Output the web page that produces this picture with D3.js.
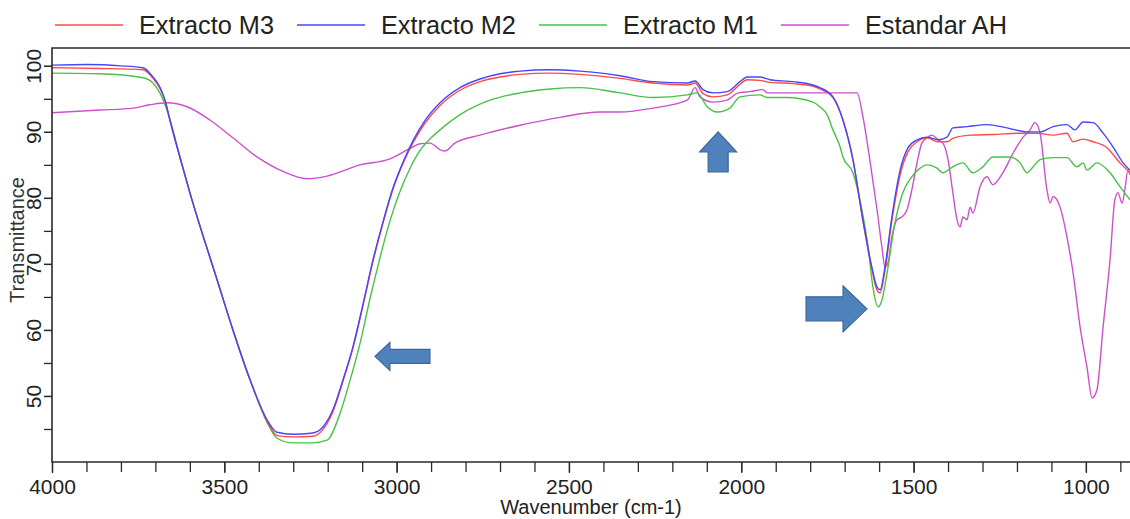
<!DOCTYPE html>
<html>
<head>
<meta charset="utf-8">
<script src="https://cdn.jsdelivr.net/npm/d3@7"></script>
<style>
  html, body { margin: 0; padding: 0; background: #ffffff; }
  svg { display: block; font-family: "Liberation Sans", Arial, sans-serif; }
</style>
</head>
<body>
<svg id="chart" width="1130" height="519"></svg>
<script>
// FTIR spectra: [wavenumber (cm-1), transmittance (%)]
const extractoM3 = [
  [4000, 99.7], [3860, 99.6], [3736, 99.4], [3707, 98.1], [3687, 96.6], [3672, 94.7],
  [3658, 91.8], [3629, 86.2], [3600, 80.8], [3521, 67.6], [3475, 60.0], [3425, 52.4],
  [3376, 46.2], [3347, 44.0], [3301, 43.8], [3243, 43.9], [3214, 44.9], [3185, 47.6],
  [3156, 52.2], [3127, 57.2], [3098, 63.6], [3070, 70.1], [3040, 76.1], [3010, 81.4],
  [2980, 85.4], [2950, 88.6], [2918, 91.3], [2874, 94.0], [2816, 96.3], [2758, 97.6],
  [2700, 98.3], [2642, 98.7], [2555, 98.9], [2468, 98.7], [2352, 98.1], [2256, 97.4],
  [2157, 97.1], [2134, 97.4], [2111, 95.8], [2082, 95.3], [2041, 95.6], [2004, 97.2],
  [1983, 97.9], [1946, 97.8], [1917, 97.5], [1850, 97.3], [1792, 96.9], [1772, 96.5],
  [1734, 95.2], [1705, 91.8], [1676, 85.8], [1647, 76.5], [1621, 69.2], [1606, 66.0],
  [1597, 65.6], [1583, 69.0], [1563, 76.5], [1539, 83.5], [1516, 87.0], [1490, 88.5],
  [1461, 89.1], [1429, 88.5], [1403, 88.5], [1386, 89.0], [1336, 89.5], [1270, 89.6],
  [1191, 89.8], [1142, 89.8], [1095, 89.5], [1055, 89.8], [1037, 88.5], [1008, 88.9],
  [979, 88.5], [939, 87.6], [901, 85.3], [872, 83.8]
];

const extractoM2 = [
  [4000, 100.1], [3900, 100.2], [3800, 100.0], [3736, 99.7], [3707, 98.3], [3687, 96.8],
  [3672, 94.8], [3658, 91.8], [3629, 86.2], [3600, 80.8], [3521, 67.6], [3475, 60.0],
  [3425, 52.4], [3376, 46.4], [3347, 44.5], [3301, 44.2], [3243, 44.4], [3214, 45.3],
  [3185, 47.9], [3156, 52.4], [3127, 57.4], [3098, 63.8], [3070, 70.3], [3040, 76.3],
  [3010, 81.6], [2980, 85.6], [2950, 88.9], [2918, 91.7], [2874, 94.4], [2816, 96.7],
  [2758, 98.0], [2700, 98.8], [2642, 99.2], [2555, 99.4], [2468, 99.2], [2352, 98.5],
  [2256, 97.6], [2157, 97.4], [2134, 97.7], [2111, 96.4], [2082, 95.9], [2041, 96.1],
  [2004, 97.6], [1983, 98.3], [1946, 98.3], [1917, 97.9], [1850, 97.6], [1792, 97.1],
  [1772, 96.7], [1734, 95.3], [1705, 91.8], [1676, 85.8], [1647, 76.7], [1621, 69.5],
  [1606, 66.5], [1597, 66.1], [1583, 69.5], [1563, 77.1], [1539, 84.2], [1516, 87.6],
  [1490, 88.8], [1461, 89.2], [1429, 88.8], [1403, 89.2], [1386, 90.6], [1345, 90.8],
  [1287, 91.1], [1229, 90.6], [1171, 90.0], [1133, 90.0], [1095, 90.8], [1055, 91.1],
  [1032, 90.3], [1008, 91.5], [979, 91.4], [950, 89.8], [921, 87.7], [892, 85.3],
  [872, 84.2]
];

const extractoM1 = [
  [4000, 98.9], [3861, 98.8], [3736, 98.2], [3707, 97.4], [3687, 95.9], [3672, 94.1],
  [3658, 91.9], [3629, 86.2], [3600, 80.8], [3521, 67.6], [3475, 60.0], [3425, 52.4],
  [3376, 46.0], [3347, 43.6], [3301, 42.9], [3243, 42.9], [3202, 43.3], [3164, 47.4],
  [3135, 52.4], [3106, 58.0], [3077, 64.8], [3048, 71.0], [3020, 76.4], [2990, 81.0],
  [2960, 84.6], [2932, 87.2], [2900, 89.1], [2874, 90.3], [2816, 92.6], [2729, 94.8],
  [2642, 95.9], [2555, 96.5], [2468, 96.7], [2352, 95.9], [2256, 95.2], [2157, 95.6],
  [2128, 95.9], [2099, 93.8], [2070, 93.0], [2033, 93.6], [2004, 95.3], [1946, 95.6],
  [1925, 95.2], [1867, 95.2], [1792, 94.5], [1772, 93.8], [1751, 92.6], [1734, 90.3],
  [1713, 87.7], [1705, 86.2], [1676, 83.8], [1650, 78.2], [1632, 72.6], [1618, 66.5],
  [1603, 63.5], [1592, 64.5], [1577, 68.6], [1554, 76.2], [1531, 80.8], [1505, 83.2],
  [1481, 84.5], [1461, 85.0], [1432, 84.5], [1415, 83.8], [1386, 84.7], [1357, 85.3],
  [1328, 83.8], [1299, 84.7], [1270, 86.2], [1220, 86.2], [1191, 85.3], [1171, 83.8],
  [1153, 84.7], [1133, 85.8], [1095, 86.1], [1055, 86.1], [1026, 84.7], [1008, 85.3],
  [997, 84.2], [968, 85.3], [930, 83.8], [901, 81.7], [872, 79.7]
];

const estandarAH = [
  [4000, 92.9], [3861, 93.3], [3765, 93.6], [3716, 94.1], [3667, 94.4], [3608, 93.8],
  [3542, 91.8], [3475, 89.1], [3405, 86.2], [3330, 84.0], [3260, 82.9], [3202, 83.3],
  [3106, 85.0], [3019, 85.9], [2961, 87.5], [2932, 88.2], [2903, 88.3], [2874, 87.3],
  [2860, 87.1], [2831, 88.3], [2758, 89.5], [2642, 91.0], [2526, 92.2], [2410, 93.0],
  [2352, 93.0], [2256, 93.6], [2157, 94.8], [2134, 96.7], [2120, 95.3], [2082, 94.5],
  [2041, 94.8], [2009, 95.9], [1975, 96.1], [1937, 96.4], [1925, 95.9], [1867, 95.9],
  [1809, 95.9], [1713, 95.9], [1664, 95.9], [1647, 92.3], [1627, 85.8], [1606, 78.2],
  [1592, 72.6], [1583, 69.5], [1574, 70.2], [1563, 74.1], [1548, 76.7], [1534, 77.1],
  [1519, 78.2], [1505, 81.2], [1490, 85.3], [1476, 88.3], [1461, 89.1], [1447, 89.5],
  [1429, 88.8], [1415, 88.3], [1400, 85.8], [1386, 80.8], [1374, 76.7], [1365, 75.6],
  [1357, 77.1], [1345, 76.7], [1336, 78.6], [1328, 77.7], [1307, 81.7], [1287, 83.2],
  [1270, 82.0], [1241, 83.8], [1211, 86.8], [1182, 89.2], [1162, 90.3], [1148, 91.4],
  [1133, 89.8], [1113, 81.2], [1104, 79.2], [1095, 80.2], [1075, 78.6], [1055, 74.1],
  [1037, 68.6], [1017, 60.5], [997, 54.4], [982, 49.7], [968, 50.9], [950, 60.5],
  [930, 70.6], [916, 79.7], [907, 80.8], [895, 79.2], [887, 81.2], [878, 84.2],
  [872, 83.5]
];

const seriesNames = ["Extracto M3", "Extracto M2", "Extracto M1", "Estandar AH"];
const seriesData = [extractoM3, extractoM2, extractoM1, estandarAH];
const seriesColors = ["#ff4a4a", "#4646ff", "#47c247", "#cc50cc"];

const xMajorTicks = [4000, 3500, 3000, 2500, 2000, 1500, 1000];
const xMinorTicks = d3.range(4000, 850, -100);
const yMajorTicks = [50, 60, 70, 80, 90, 100];
const yMinorTicks = d3.range(45, 101, 5);

// Marker arrows: tip position in data units, pointing direction
const arrowTips = [[3063, 56.0], [2067, 90.0], [1635, 63.2]];
const arrowDirs = ["left", "up", "right"];

// ---- layout ----
const svg = d3.select("#chart");
const plot = { left: 52, right: 1130, top: 48, bottom: 462 };

const x = d3.scaleLinear().domain([4000, 872]).range([plot.left, plot.right]);
const y = d3.scaleLinear().domain([40, 102.7]).range([plot.bottom, plot.top]);

svg.append("defs").append("clipPath").attr("id", "plotClip")
  .append("rect")
  .attr("x", plot.left).attr("y", plot.top)
  .attr("width", plot.right - plot.left).attr("height", plot.bottom - plot.top);

// ---- spectra ----
const line = d3.line()
  .x(d => x(d[0]))
  .y(d => y(d[1]))
  .curve(d3.curveMonotoneX);

const lines = svg.append("g").attr("clip-path", "url(#plotClip)");
// draw back to front so the extracts sit over the standard
const drawOrder = [3, 2, 0, 1];
drawOrder.forEach(i => {
  lines.append("path")
    .datum(seriesData[i])
    .attr("d", line)
    .attr("fill", "none")
    .attr("stroke", seriesColors[i])
    .attr("stroke-width", 1.4)
    .attr("stroke-linejoin", "round");
});

// ---- axes ----
const axisColor = "#2a2a2a";
const tickFont = 21;

const gx = svg.append("g").attr("transform", `translate(0,${plot.bottom})`);
gx.call(d3.axisBottom(x).tickValues(xMinorTicks).tickSize(10).tickFormat(""));
gx.select(".domain").remove();
const gxl = svg.append("g").attr("transform", `translate(0,${plot.bottom})`);
gxl.call(d3.axisBottom(x).tickValues(xMajorTicks).tickSize(11).tickPadding(6).tickFormat(d3.format("d")));
gxl.select(".domain").remove();
[gx, gxl].forEach(g => {
  g.selectAll("line").attr("stroke", axisColor).attr("stroke-width", 1.3);
  g.selectAll("text").attr("fill", "#222").style("font-size", tickFont + "px")
    .style("font-family", '"Liberation Sans", Arial, sans-serif');
});

const gy = svg.append("g").attr("transform", `translate(${plot.left},0)`);
gy.call(d3.axisLeft(y).tickValues(yMinorTicks).tickSize(8).tickFormat(""));
gy.select(".domain").remove();
const gyl = svg.append("g").attr("transform", `translate(${plot.left},0)`);
gyl.call(d3.axisLeft(y).tickValues(yMajorTicks).tickSize(8).tickFormat(d3.format("d")));
gyl.select(".domain").remove();
[gy, gyl].forEach(g => g.selectAll("line").attr("stroke", axisColor).attr("stroke-width", 1.3));
gyl.selectAll("text")
  .attr("x", 0).attr("dy", 0)
  .attr("text-anchor", "middle")
  .attr("transform", "translate(-11,0) rotate(-90)")
  .attr("fill", "#222")
  .style("font-size", tickFont + "px")
  .style("font-family", '"Liberation Sans", Arial, sans-serif');

// plot frame (left, top, bottom)
svg.append("path")
  .attr("d", `M${plot.right},${plot.top}H${plot.left}V${plot.bottom}H${plot.right}`)
  .attr("fill", "none")
  .attr("stroke", axisColor)
  .attr("stroke-width", 1.6);

// axis titles
svg.append("text")
  .attr("x", 591).attr("y", 514)
  .attr("text-anchor", "middle")
  .attr("fill", "#222")
  .style("font-size", "20px")
  .text("Wavenumber (cm-1)");

svg.append("text")
  .attr("transform", "translate(24,240) rotate(-90)")
  .attr("text-anchor", "middle")
  .attr("fill", "#333")
  .style("font-size", "20px")
  .text("Transmittance");

// ---- arrows ----
const arrowFill = "#4f81bd", arrowStroke = "#3b6698";
function arrowPath(dir, tx, ty) {
  // shaft and head sizes in pixels
  const s = {
    left:  { len: 55, head: 15, hw: 14, bw: 7 },
    up:    { len: 40, head: 20, hw: 18.5, bw: 10 },
    right: { len: 61, head: 24, hw: 23, bw: 12 }
  }[dir];
  let pts;
  if (dir === "left") {
    pts = [[0, 0], [s.head, -s.hw], [s.head, -s.bw], [s.len, -s.bw], [s.len, s.bw], [s.head, s.bw], [s.head, s.hw]];
  } else if (dir === "right") {
    pts = [[0, 0], [-s.head, -s.hw], [-s.head, -s.bw], [-s.len, -s.bw], [-s.len, s.bw], [-s.head, s.bw], [-s.head, s.hw]];
  } else {
    pts = [[0, 0], [s.hw, s.head], [s.bw, s.head], [s.bw, s.len], [-s.bw, s.len], [-s.bw, s.head], [-s.hw, s.head]];
  }
  return "M" + pts.map(p => [tx + p[0], ty + p[1]].join(",")).join("L") + "Z";
}
arrowTips.forEach((t, i) => {
  svg.append("path")
    .attr("d", arrowPath(arrowDirs[i], x(t[0]), y(t[1])))
    .attr("fill", arrowFill)
    .attr("stroke", arrowStroke)
    .attr("stroke-width", 1.2)
    .attr("stroke-linejoin", "miter");
});

// ---- legend ----
const legend = svg.append("g");
let lx = 55;
const legendY = 25;
seriesNames.forEach((name, i) => {
  legend.append("line")
    .attr("x1", lx).attr("x2", lx + 68)
    .attr("y1", legendY).attr("y2", legendY)
    .attr("stroke", seriesColors[i])
    .attr("stroke-width", 1.4);
  const t = legend.append("text")
    .attr("x", lx + 84).attr("y", legendY + 9)
    .attr("fill", "#222")
    .style("font-size", "25.3px")
    .text(name);
  lx = lx + 84 + t.node().getComputedTextLength() + 23;
});
</script>
</body>
</html>
